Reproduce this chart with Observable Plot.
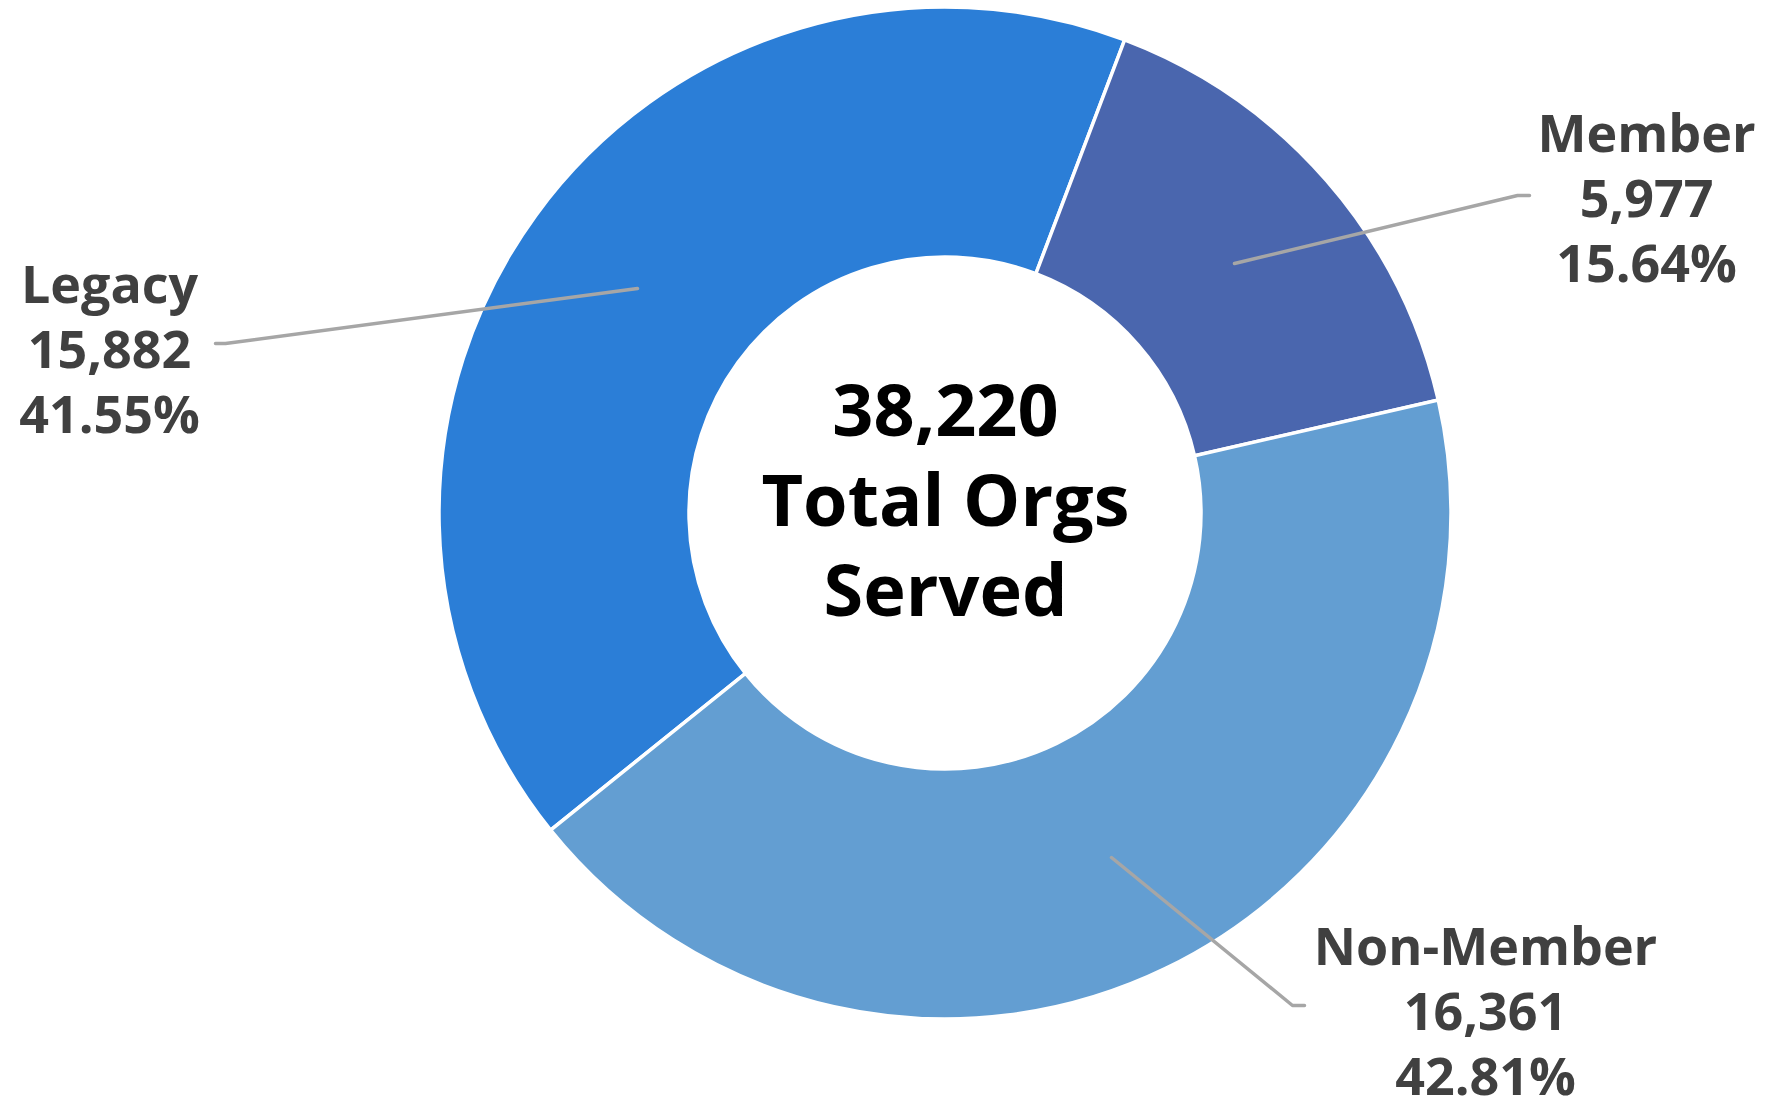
<!DOCTYPE html>
<html>
<head>
<meta charset="utf-8">
<script src="https://cdn.jsdelivr.net/npm/d3@7"></script>
<script src="https://cdn.jsdelivr.net/npm/@observablehq/plot@0.6"></script>
<style>
  html, body { margin: 0; padding: 0; background: #ffffff; }
  #chart svg { display: block; }
</style>
</head>
<body>
<div id="chart"></div>
<script>
// ---- data ----
const categories = ["Legacy", "Member", "Non-Member"];
const values = [15882, 5977, 16361];
const colors = ["#2B7ED7", "#4A66AE", "#639ED2"];
const centerLines = ["Total Orgs", "Served"];

const total = d3.sum(values);
const fmt = d3.format(",");
const slices = categories.map((c, i) => ({
  category: c,
  value: values[i],
  pct: (values[i] / total * 100).toFixed(2) + "%",
  color: colors[i]
}));

// ---- layout (pixel space) ----
const W = 1765, H = 1098;
const cx = 945, cy = 513, rOuter = 506, rInner = 256;
const startDeg = -128.8;

// label anchors and leader lines per category (layout only)
const labelPos = {
  "Legacy":     {x: 109,  y: 347, line: [[637, 288], [225, 343], [215, 343]]},
  "Member":     {x: 1646, y: 196, line: [[1234, 263], [1517, 195], [1529, 195]]},
  "Non-Member": {x: 1485, y: 1009, line: [[1111, 857], [1292, 1005], [1304, 1005]]}
};

const labelRows = slices.map(s => ({
  text: `${s.category}\n${fmt(s.value)}\n${s.pct}`,
  x: labelPos[s.category].x,
  y: labelPos[s.category].y
}));
const leaderRows = slices.flatMap(s =>
  labelPos[s.category].line.map(([x, y]) => ({category: s.category, x, y}))
);
const centerRows = [{text: `${fmt(total)}\n${centerLines.join("\n")}`, x: cx, y: cy - 16}];

// donut as a render-function mark using Plot's scales
function donut(index, scales) {
  const pie = d3.pie()
    .sort(null)
    .value(d => d.value)
    .startAngle(startDeg * Math.PI / 180)
    .endAngle((startDeg + 360) * Math.PI / 180);
  const arc = d3.arc().innerRadius(rInner).outerRadius(rOuter);
  const g = d3.create("svg:g")
    .attr("transform", `translate(${scales.x(cx)},${scales.y(cy)})`);
  g.selectAll("path")
    .data(pie(slices))
    .join("path")
    .attr("d", arc)
    .attr("fill", d => d.data.color)
    .attr("stroke", "#ffffff")
    .attr("stroke-width", 3.5)
    .attr("stroke-linejoin", "miter");
  return g.node();
}

const chart = Plot.plot({
  width: W,
  height: H,
  margin: 0,
  x: {domain: [0, W], range: [0, W], axis: null},
  y: {domain: [0, H], range: [0, H], axis: null},
  style: {background: "#ffffff", fontFamily: "'Open Sans', sans-serif"},
  marks: [
    donut,
    Plot.line(leaderRows, {x: "x", y: "y", z: "category", stroke: "#A6A6A6", strokeWidth: 3.5}),
    Plot.text(labelRows, {
      x: "x", y: "y", text: "text",
      fontSize: 52, fontWeight: 700, fill: "#404040",
      lineHeight: 1.25, textAnchor: "middle"
    }),
    Plot.text(centerRows, {
      x: "x", y: "y", text: "text",
      fontSize: 72, fontWeight: 700, fill: "#000000",
      lineHeight: 1.25, textAnchor: "middle"
    })
  ]
});

document.getElementById("chart").appendChild(chart);
</script>
</body>
</html>
